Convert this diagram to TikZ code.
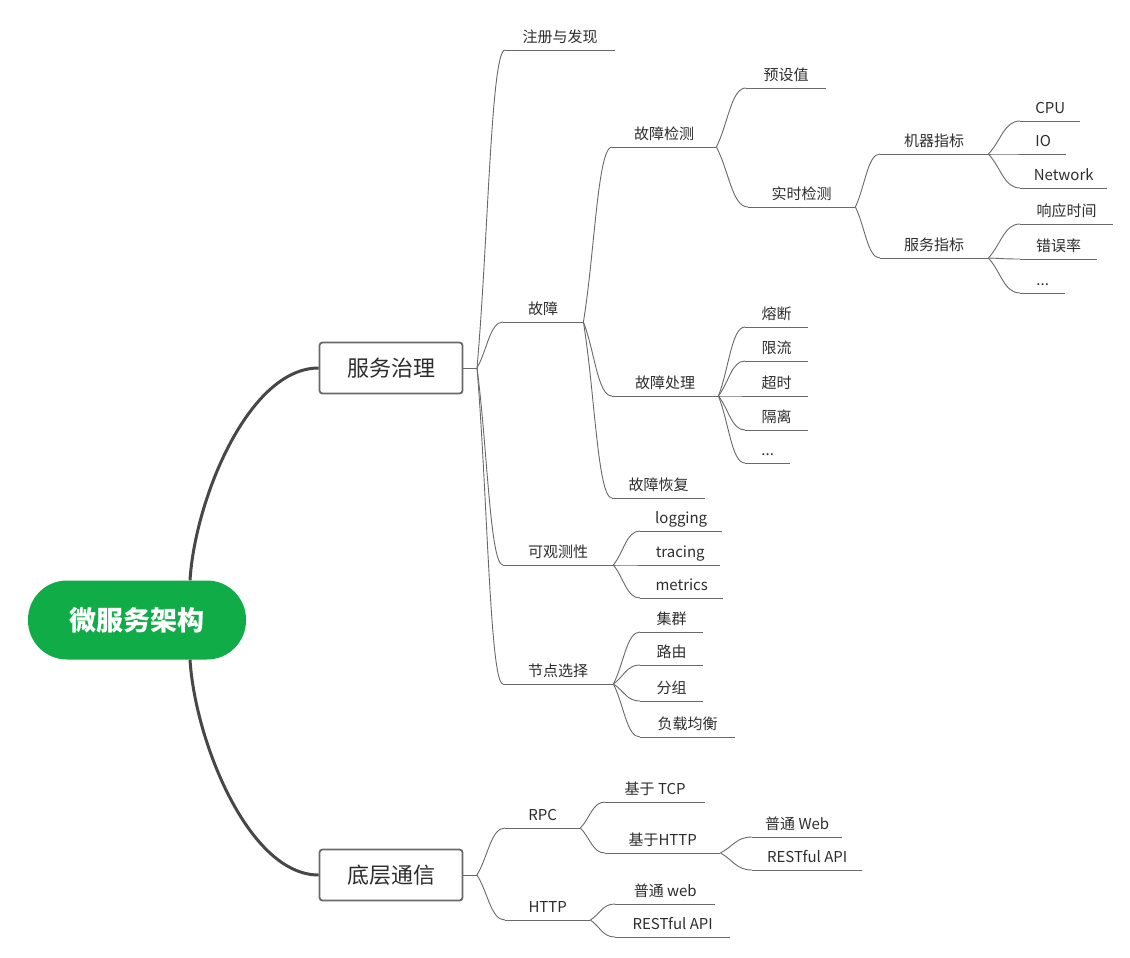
\documentclass[tikz,border=0pt]{standalone}
\usepackage{fontspec}
\setmainfont{Noto Sans CJK SC}
\usetikzlibrary{calc}
\definecolor{rootgreen}{RGB}{16,172,72}
\definecolor{linegray}{RGB}{105,105,105}
\definecolor{txtgray}{RGB}{45,45,45}

\begin{document}
\begin{tikzpicture}[x=1pt, y=-1pt,
  leaf/.style={anchor=south west, inner xsep=0pt, inner ysep=4pt,
    minimum width=#1pt, text height=11pt, text depth=3pt,
    font=\fontsize{15}{18}\selectfont, text=txtgray,
    append after command={(\tikzlastnode.south west) edge[linegray, line width=0.9pt] (\tikzlastnode.south east)}},
  branch/.style={linegray, line width=0.9pt,
    to path={.. controls ($(\tikztostart)!0.4!(\tikztotarget)$)
      and ($(\tikztotarget)!0.5!(\tikztotarget -| \tikztostart)$) .. (\tikztotarget)}},
  topic/.style={draw=linegray, line width=1.8pt, rounded corners=3pt, fill=white,
    minimum width=143pt, minimum height=51pt, text=txtgray,
    font=\fontsize{22}{26}\selectfont},
  root/.style={fill=rootgreen, rounded corners=39pt, minimum width=218pt,
    minimum height=79pt, text=white, font=\fontsize{27}{32}\selectfont\bfseries},
  main/.style={draw=black!72, line width=3pt}
]
\useasboundingbox (0,0) rectangle (1130,958);

% Centre and the two topics
\node[root] (root) at (137,620) {微服务架构};
\node[topic] (gov) at (391,368) {服务治理};
\node[topic] (comm) at (391,875) {底层通信};

\draw[main] ($(root.north)+(53,0)$) .. controls +(5,-81) and +(-70,0) .. (gov.west);
\draw[main] ($(root.south)+(53,0)$) .. controls +(5,81) and +(-70,0) .. (comm.west);

\coordinate (govhub) at (477,368);
\coordinate (commhub) at (477,875);
\draw[linegray, line width=0.9pt] (gov.east) -- (govhub);
\draw[linegray, line width=0.9pt] (comm.east) -- (commhub);

% 服务治理
\node[leaf=110] (reg) at (505,50) {注册与发现};
\node[leaf=80] (fault) at (503,322) {故障};
\node[leaf=110] (obs) at (503,565) {可观测性};
\node[leaf=110] (sel) at (503,684) {节点选择};

\node[leaf=104] (detect) at (612,147) {故障检测};
\node[leaf=106] (handle) at (612,396) {故障处理};
\node[leaf=93] (recover) at (612,498) {故障恢复};

\node[leaf=80] (preset) at (746,88) {预设值};
\node[leaf=107] (realtime) at (748,207) {实时检测};

\node[leaf=108] (machine) at (880,154) {机器指标};
\node[leaf=108] (service) at (880,258) {服务指标};

\node[leaf=60] (cpu) at (1020,121) {CPU};
\node[leaf=46] (io) at (1020,154) {IO};
\node[leaf=87] (network) at (1020,188) {Network};
\node[leaf=93] (resp) at (1020,224) {响应时间};
\node[leaf=77] (errrate) at (1020,259) {错误率};
\node[leaf=45] (etcA) at (1020,293) {...};

\node[leaf=63] (fuse) at (745,327) {熔断};
\node[leaf=63] (limit) at (745,361) {限流};
\node[leaf=63] (timeout) at (745,396) {超时};
\node[leaf=63] (isolate) at (745,430) {隔离};
\node[leaf=45] (etcB) at (745,463) {...};

\node[leaf=82] (logging) at (640,531) {logging};
\node[leaf=80] (tracing) at (640,565) {tracing};
\node[leaf=83] (metrics) at (640,598) {metrics};

\node[leaf=63] (cluster) at (640,632) {集群};
\node[leaf=63] (route) at (640,665) {路由};
\node[leaf=63] (group) at (640,701) {分组};
\node[leaf=95] (balance) at (640,737) {负载均衡};

% 底层通信
\node[leaf=75] (rpc) at (505,828) {RPC};
\node[leaf=85] (http) at (505,920) {HTTP};
\node[leaf=100] (tcp) at (605,802) {基于 TCP};
\node[leaf=115] (onhttp) at (605,853) {基于HTTP};
\node[leaf=90] (webA) at (752,837) {普通 Web};
\node[leaf=110] (restA) at (752,870) {RESTful API};
\node[leaf=100] (webB) at (615,904) {普通 web};
\node[leaf=115] (restB) at (615,937) {RESTful API};

% Branches
\foreach \c in {reg,fault,obs,sel} \draw[branch] (govhub) to (\c.south west);
\foreach \c in {detect,handle,recover} \draw[branch] (fault.south east) to (\c.south west);
\foreach \c in {preset,realtime} \draw[branch] (detect.south east) to (\c.south west);
\foreach \c in {machine,service} \draw[branch] (realtime.south east) to (\c.south west);
\foreach \c in {cpu,io,network} \draw[branch] (machine.south east) to (\c.south west);
\foreach \c in {resp,errrate,etcA} \draw[branch] (service.south east) to (\c.south west);
\foreach \c in {fuse,limit,timeout,isolate,etcB} \draw[branch] (handle.south east) to (\c.south west);
\foreach \c in {logging,tracing,metrics} \draw[branch] (obs.south east) to (\c.south west);
\foreach \c in {cluster,route,group,balance} \draw[branch] (sel.south east) to (\c.south west);
\foreach \c in {rpc,http} \draw[branch] (commhub) to (\c.south west);
\foreach \c in {tcp,onhttp} \draw[branch] (rpc.south east) to (\c.south west);
\foreach \c in {webA,restA} \draw[branch] (onhttp.south east) to (\c.south west);
\foreach \c in {webB,restB} \draw[branch] (http.south east) to (\c.south west);

\end{tikzpicture}
\end{document}
